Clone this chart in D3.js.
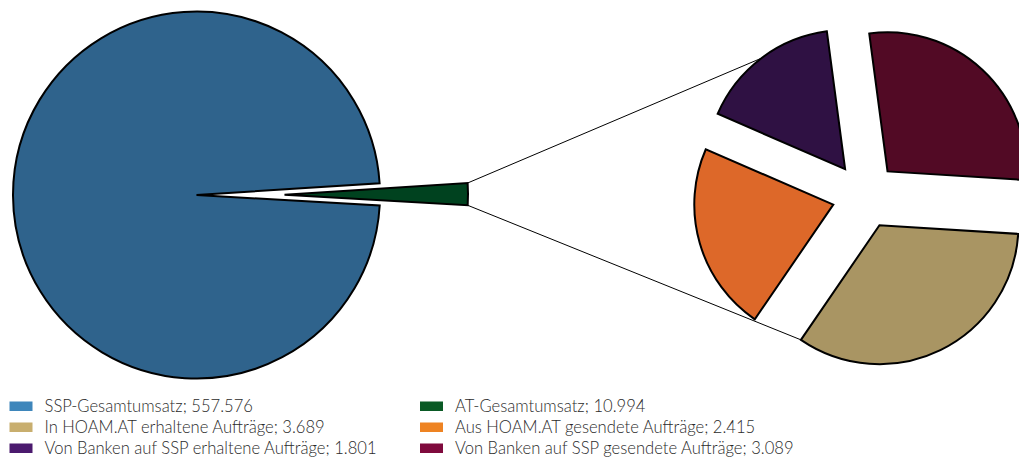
<!DOCTYPE html>
<html>
<head>
<meta charset="utf-8">
<script src="https://cdn.jsdelivr.net/npm/d3@7/dist/d3.min.js"></script>
<style>
  html, body { margin: 0; padding: 0; background: #fff; }
  svg { display: block; }
  .legend text { font-family: Lato, "Noto Sans", sans-serif; font-size: 16.6px; font-weight: 300; fill: #2b2b2b; }
</style>
</head>
<body>
<svg id="chart" width="1019" height="461"></svg>
<script>
// Main pie: total turnover split into SSP and AT
const mainLabels = ["SSP-Gesamtumsatz", "AT-Gesamtumsatz"];
const mainValues = [557.576, 10.994];

// Secondary pie: breakdown of the AT share
const subLabels = [
  "In HOAM.AT erhaltene Aufträge",
  "Aus HOAM.AT gesendete Aufträge",
  "Von Banken auf SSP erhaltene Aufträge",
  "Von Banken auf SSP gesendete Aufträge"
];
const subValues = [3.689, 2.415, 1.801, 3.089];

// Legend entries in display order (two columns, three rows)
const legendLabels = [
  "SSP-Gesamtumsatz", "In HOAM.AT erhaltene Aufträge", "Von Banken auf SSP erhaltene Aufträge",
  "AT-Gesamtumsatz", "Aus HOAM.AT gesendete Aufträge", "Von Banken auf SSP gesendete Aufträge"
];
const legendValues = [557.576, 3.689, 1.801, 10.994, 2.415, 3.089];

// Fill colours for slices (shaded) and legend swatches (bright)
const sliceColor = {
  "SSP-Gesamtumsatz": "#2f638c",
  "AT-Gesamtumsatz": "#00421f",
  "In HOAM.AT erhaltene Aufträge": "#a99563",
  "Aus HOAM.AT gesendete Aufträge": "#dd6829",
  "Von Banken auf SSP erhaltene Aufträge": "#2f1143",
  "Von Banken auf SSP gesendete Aufträge": "#520a25"
};
const swatchColor = {
  "SSP-Gesamtumsatz": "#3e86bb",
  "AT-Gesamtumsatz": "#0a5a25",
  "In HOAM.AT erhaltene Aufträge": "#c8ae6e",
  "Aus HOAM.AT gesendete Aufträge": "#ee8322",
  "Von Banken auf SSP erhaltene Aufträge": "#4b1a6e",
  "Von Banken auf SSP gesendete Aufträge": "#7f0a3d"
};

const deg = Math.PI / 180;
const svg = d3.select("#chart");

// ---- main pie ----
const mainC = [196.5, 195], mainR = 183.5, mainExplode = [0, 88];
const mainPie = d3.pie().sort(null)
  .startAngle(93.3 * deg).endAngle(93.3 * deg + 2 * Math.PI);
const mainArcs = mainPie(mainValues)
  .map((a, i) => Object.assign(a, { label: mainLabels[i], explode: mainExplode[i] }));
const mainArc = d3.arc().innerRadius(0).outerRadius(mainR);

const offset = (a, e) => d3.pointRadial((a.startAngle + a.endAngle) / 2, e);

// ---- secondary pie ----
const subC = [865, 195.5], subR = 139, subExplode = 33;
const subPie = d3.pie().sort(null)
  .startAngle(93.6 * deg).endAngle(93.6 * deg + 2 * Math.PI);
const subArcs = subPie(subValues).map((a, i) => Object.assign(a, { label: subLabels[i] }));
const subArc = d3.arc().innerRadius(0).outerRadius(subR);

// ---- connector lines between the AT slice and the breakdown pie ----
const at = mainArcs[1];
const atOff = offset(at, at.explode);
const atTop = d3.pointRadial(at.startAngle, mainR).map((v, k) => v + atOff[k] + mainC[k]);
const atBot = d3.pointRadial(at.endAngle, mainR).map((v, k) => v + atOff[k] + mainC[k]);

const purple = subArcs[2], tan = subArcs[0];
const pOff = offset(purple, subExplode);
const tOff = offset(tan, subExplode);
const upEnd = d3.pointRadial((purple.startAngle + purple.endAngle) / 2, subR).map((v, k) => v + pOff[k] + subC[k]);
const loEnd = d3.pointRadial(tan.endAngle, subR).map((v, k) => v + tOff[k] + subC[k]);

svg.append("g").selectAll("line")
  .data([[atTop, upEnd], [atBot, loEnd]])
  .join("line")
  .attr("x1", d => d[0][0]).attr("y1", d => d[0][1])
  .attr("x2", d => d[1][0]).attr("y2", d => d[1][1])
  .attr("stroke", "#000").attr("stroke-width", 1);

const gMain = svg.append("g").attr("transform", `translate(${mainC[0]},${mainC[1]})`);
gMain.selectAll("path")
  .data(mainArcs)
  .join("path")
  .attr("d", mainArc)
  .attr("transform", d => `translate(${offset(d, d.explode)})`)
  .attr("fill", d => sliceColor[d.label])
  .attr("stroke", "#000").attr("stroke-width", 2).attr("stroke-linejoin", "miter");

const gSub = svg.append("g").attr("transform", `translate(${subC[0]},${subC[1]})`);
gSub.selectAll("path")
  .data(subArcs)
  .join("path")
  .attr("d", subArc)
  .attr("transform", d => `translate(${offset(d, subExplode)})`)
  .attr("fill", d => sliceColor[d.label])
  .attr("stroke", "#000").attr("stroke-width", 2).attr("stroke-linejoin", "miter");

// ---- legend ----
const legend = svg.append("g").attr("class", "legend");
const colX = [9.5, 420], rowY = [406, 427, 448];
const item = legend.selectAll("g")
  .data(legendLabels.map((l, i) => ({ label: l, value: legendValues[i], col: Math.floor(i / 3), row: i % 3 })))
  .join("g")
  .attr("transform", d => `translate(${colX[d.col]},${rowY[d.row]})`);
item.append("rect")
  .attr("x", 0).attr("y", -4.5).attr("width", 23).attr("height", 9.5)
  .attr("fill", d => swatchColor[d.label]);
item.append("text")
  .attr("x", 35).attr("y", 6)
  .text(d => `${d.label}; ${d3.format(".3f")(d.value)}`);
</script>
</body>
</html>
